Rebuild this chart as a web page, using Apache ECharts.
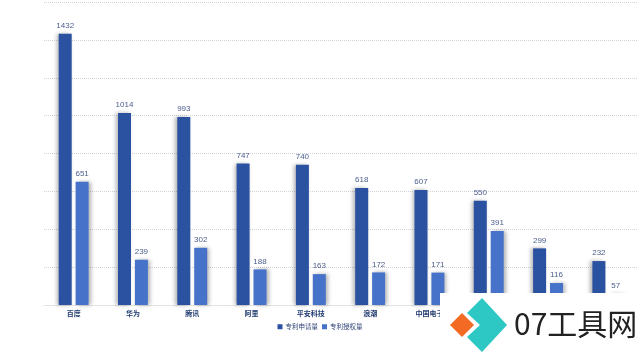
<!DOCTYPE html>
<html>
<head>
<meta charset="utf-8">
<script src="https://cdn.jsdelivr.net/npm/echarts@6/dist/echarts.min.js"></script>
<style>
  html, body { margin: 0; padding: 0; background: #fff; }
  #chart { width: 640px; height: 360px; }
</style>
</head>
<body>
<div id="chart"></div>
<script>
const categories = ["百度", "华为", "腾讯", "阿里", "平安科技", "浪潮", "中国电子", "国家电网", "京东", "小米"];
const applied = [1432, 1014, 993, 747, 740, 618, 607, 550, 299, 232];
const granted = [651, 239, 302, 188, 163, 172, 171, 391, 116, 57];
const seriesNames = ["专利申请量", "专利授权量"];

const chart = echarts.init(document.getElementById("chart"));

const labelStyle = {
  show: true,
  position: "top",
  distance: 4,
  fontSize: 8,
  color: "#4b5d8c",
  fontFamily: "Liberation Sans, Arial, sans-serif",
};

option = {
  backgroundColor: "#fff",
  animation: false,
  grid: { left: 44, right: 3, top: 2, bottom: 55 },
  legend: {
    bottom: 25,
    left: "center",
    itemWidth: 5,
    itemHeight: 5,
    itemGap: 4,
    icon: "rect",
    textStyle: { fontSize: 6.5, color: "#2b3f73", fontFamily: "Noto Sans CJK SC", padding: [0, 0, 0, -2] },
    data: seriesNames,
  },
  xAxis: {
    type: "category",
    data: categories,
    axisTick: { show: false },
    axisLine: { lineStyle: { color: "#e3e3e3" } },
    axisLabel: {
      fontSize: 7,
      color: "#1f3a6e",
      fontWeight: "bold",
      margin: 5,
      fontFamily: "Noto Sans CJK SC",
    },
  },
  yAxis: {
    type: "value",
    min: 0,
    max: 1600,
    interval: 200,
    axisLine: { show: false },
    axisTick: { show: false },
    axisLabel: { show: false },
    splitLine: { lineStyle: { color: "#cfd3dc", type: "dotted" } },
  },
  series: [
    {
      name: seriesNames[0],
      type: "bar",
      barWidth: 13,
      barGap: "30%",
      data: applied,
      itemStyle: {
        color: "#2b51a1",
        shadowColor: "rgba(0,0,0,0.3)",
        shadowBlur: 4,
        shadowOffsetX: -2,
      },
      label: labelStyle,
    },
    {
      name: seriesNames[1],
      type: "bar",
      barWidth: 13,
      data: granted,
      itemStyle: {
        color: "#4673c9",
        shadowColor: "rgba(0,0,0,0.3)",
        shadowBlur: 4,
        shadowOffsetX: 2,
      },
      label: labelStyle,
    },
  ],
  // watermark in the bottom-right corner
  graphic: [
    { type: "rect", z: 100, shape: { x: 440, y: 293, width: 200, height: 67 }, style: { fill: "#fff" } },
    {
      type: "polygon",
      z: 101,
      shape: { points: [[467, 313], [482, 298], [507, 325], [482, 352], [467, 337], [480, 325]] },
      style: { fill: "#2ec8c4" },
    },
    {
      type: "polygon",
      z: 102,
      shape: { points: [[462, 313], [474, 325], [462, 337], [450, 325]] },
      style: { fill: "#f26a24" },
    },
    {
      type: "text",
      z: 102,
      x: 514,
      y: 339,
      style: {
        text: "07工具网",
        fill: "#222",
        fontSize: 30,
        fontFamily: "Noto Sans CJK SC",
        verticalAlign: "bottom",
      },
    },
  ],
};

chart.setOption(option);
</script>
</body>
</html>
